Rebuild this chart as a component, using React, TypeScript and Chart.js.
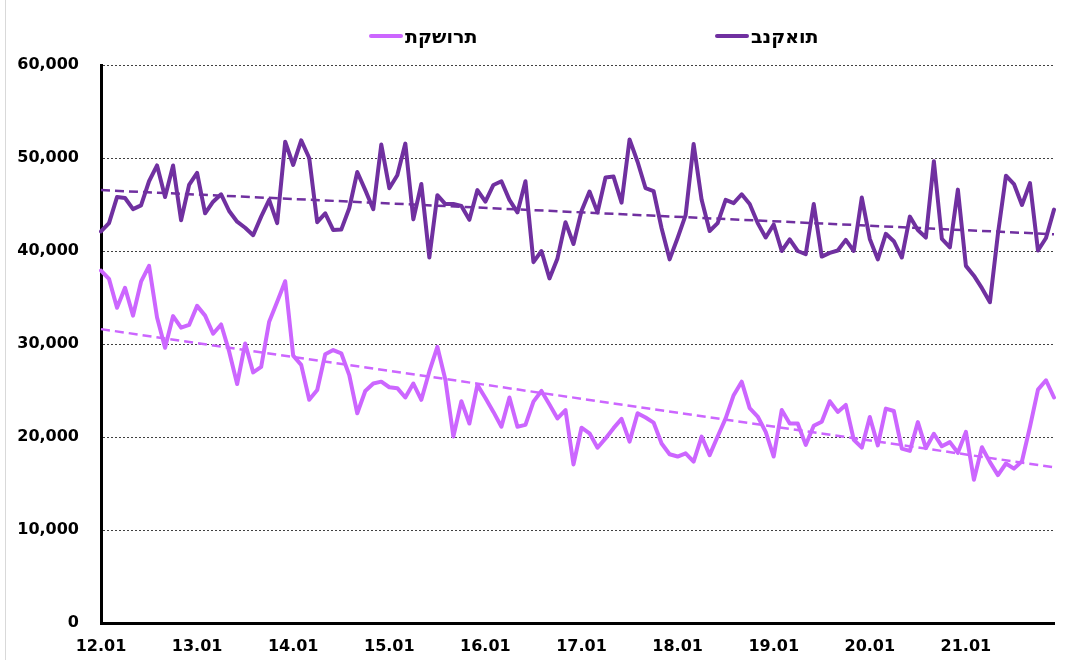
import React, { useEffect, useRef } from 'react';
import { Chart, registerables } from 'chart.js';

Chart.register(...registerables);

const years = ['12', '13', '14', '15', '16', '17', '18', '19', '20', '21'];
const months = ['01', '02', '03', '04', '05', '06', '07', '08', '09', '10', '11', '12'];
const categories = years.flatMap((y) => months.map((m) => `${y}.${m}`));

const seriesNames = ['תקשורת', 'בנקאות'];

const banks = [
  42100, 43000, 45800, 45700, 44500, 44900, 47500, 49200, 45800, 49200,
  43300, 47100, 48400, 44050, 45300, 46100, 44300, 43150, 42500, 41700,
  43700, 45500, 43000, 51750, 49250, 51900, 50000, 43100, 44050, 42250,
  42300, 44600, 48500, 46550, 44500, 51450, 46750, 48150, 51550, 43400,
  47200, 39300, 46000, 45050, 45050, 44850, 43350, 46550, 45300, 47100,
  47500, 45500, 44150, 47500, 38800, 40000, 37050, 39200, 43100, 40750,
  44300, 46400, 44150, 47900, 48000, 45200, 52000, 49600, 46750, 46450,
  42450, 39100, 41400, 43850, 51500, 45500, 42150, 43000, 45500, 45150,
  46100, 45050, 43000, 41450, 42850, 40000, 41250, 40000, 39650, 45050,
  39400, 39800, 40050, 41200, 40000, 45750, 41300, 39100, 41850, 41050,
  39300, 43700, 42250, 41450, 49650, 41300, 40400, 46600, 38400, 37350,
  36000, 34500, 41850, 48100, 47200, 44950, 47300, 40050, 41400, 44450,
];

const telecom = [
  37900, 37000, 33900, 36050, 33050, 36700, 38400, 32850, 29600, 33000,
  31750, 32050, 34100, 33050, 31100, 32100, 29200, 25700, 30050, 26950,
  27550, 32400, 34550, 36750, 28750, 27750, 24000, 25050, 28900, 29350,
  29000, 26650, 22550, 24950, 25750, 25950, 25350, 25250, 24250, 25750,
  24000, 27050, 29700, 26150, 20050, 23850, 21450, 25600, 24200, 22700,
  21100, 24250, 21100, 21300, 23800, 24950, 23500, 22000, 22900, 17050,
  21000, 20400, 18850, 19850, 20950, 21950, 19500, 22550, 22100, 21550,
  19300, 18150, 17900, 18250, 17350, 20050, 18050, 20050, 22000, 24500,
  25950, 23100, 22200, 20550, 17900, 22900, 21450, 21450, 19150, 21200,
  21650, 23850, 22700, 23450, 19700, 18850, 22150, 19100, 23050, 22800,
  18750, 18500, 21600, 18800, 20350, 19000, 19450, 18300, 20550, 15400,
  18900, 17300, 15900, 17150, 16600, 17400, 21100, 25100, 26100, 24250,
];

// linear trend line end values (first and last month)
const banksTrendEnds = [46550, 41800];
const telecomTrendEnds = [31600, 16750];

const yMin = 0;
const yMax = 60000;
const yStep = 10000;

const COLOR_TEL = '#CC66FF';
const COLOR_BANK = '#7030A0';

function trendSeries(ends: number[]) {
  const arr: (number | null)[] = categories.map(() => null);
  arr[0] = ends[0];
  arr[arr.length - 1] = ends[1];
  return arr;
}

const FONT = '"DejaVu Sans", Verdana, sans-serif';

// Hebrew word laid out right-to-left letter by letter (logical order kept in the DOM)
function RtlText({ text }: { text: string }) {
  return (
    <span dir="rtl" style={{ display: 'inline-flex', flexDirection: 'row-reverse' }}>
      {Array.from(text).map((ch, i) => (
        <span key={i}>{ch}</span>
      ))}
    </span>
  );
}

export default function App() {
  const canvasRef = useRef<HTMLCanvasElement | null>(null);

  useEffect(() => {
    document.body.style.margin = '0';
    const canvas = canvasRef.current;
    if (!canvas) return;
    const chart = new Chart(canvas, {
      type: 'line',
      data: {
        labels: categories,
        datasets: [
          {
            label: seriesNames[1] + ' trend',
            data: trendSeries(banksTrendEnds),
            borderColor: COLOR_BANK,
            borderWidth: 2.5,
            borderDash: [9, 5],
            pointRadius: 0,
            spanGaps: true,
            fill: false,
          },
          {
            label: seriesNames[0] + ' trend',
            data: trendSeries(telecomTrendEnds),
            borderColor: COLOR_TEL,
            borderWidth: 2.5,
            borderDash: [9, 5],
            pointRadius: 0,
            spanGaps: true,
            fill: false,
          },
          {
            label: seriesNames[0],
            data: telecom,
            borderColor: COLOR_TEL,
            borderWidth: 4,
            pointRadius: 0,
            tension: 0,
            borderJoinStyle: 'round',
            borderCapStyle: 'round',
            fill: false,
          },
          {
            label: seriesNames[1],
            data: banks,
            borderColor: COLOR_BANK,
            borderWidth: 4,
            pointRadius: 0,
            tension: 0,
            borderJoinStyle: 'round',
            borderCapStyle: 'round',
            fill: false,
          },
        ],
      },
      options: {
        responsive: false,
        animation: false,
        devicePixelRatio: 1,
        layout: { padding: { top: 65, right: 32, bottom: 0, left: 0 } },
        plugins: {
          legend: { display: false },
          tooltip: { enabled: false },
        },
        scales: {
          x: {
            type: 'category',
            offset: false,
            grid: { display: false, drawTicks: false },
            border: { display: true, color: '#000', width: 3 },
            ticks: {
              autoSkip: false,
              maxRotation: 0,
              minRotation: 0,
              padding: 14,
              color: '#000',
              font: { family: FONT, size: 16, weight: 'bold' },
              callback: (_v: any, i: number) => (i % 12 === 0 ? categories[i] : ''),
            },
            afterFit: (s: any) => {
              s.height = 37;
            },
          },
          y: {
            min: yMin,
            max: yMax,
            grid: { color: '#404040', lineWidth: 1, drawTicks: false },
            border: { display: true, color: '#000', width: 3, dash: [2, 2] },
            ticks: {
              stepSize: yStep,
              padding: 22,
              color: '#000',
              font: { family: FONT, size: 16, weight: 'bold' },
              callback: (v: any) => Number(v).toLocaleString('en-US'),
            },
            afterFit: (s: any) => {
              s.width = 101;
            },
          },
        },
      },
    });
    return () => chart.destroy();
  }, []);

  const legendItems = [
    { name: seriesNames[0], color: COLOR_TEL, left: 369 },
    { name: seriesNames[1], color: COLOR_BANK, left: 715 },
  ];

  return (
    <div style={{ position: 'relative', width: 1086, height: 660, background: '#fff', overflow: 'hidden' }}>
      <div style={{ position: 'absolute', left: 5, top: 0, width: 1, height: 660, background: '#d9d9d9' }} />
      <canvas ref={canvasRef} width={1086} height={660} style={{ position: 'absolute', left: 0, top: 0 }} />
      {legendItems.map((it) => (
        <div
          key={it.name}
          style={{
            position: 'absolute',
            left: it.left,
            top: 25,
            height: 22,
            display: 'flex',
            alignItems: 'center',
            fontFamily: FONT,
            fontWeight: 'bold',
            fontSize: 19,
            color: '#000',
            whiteSpace: 'nowrap',
          }}
        >
          <div style={{ width: 34, height: 4, borderRadius: 2, background: it.color }} />
          <span style={{ marginLeft: 2 }}>
            <RtlText text={it.name} />
          </span>
        </div>
      ))}
    </div>
  );
}
